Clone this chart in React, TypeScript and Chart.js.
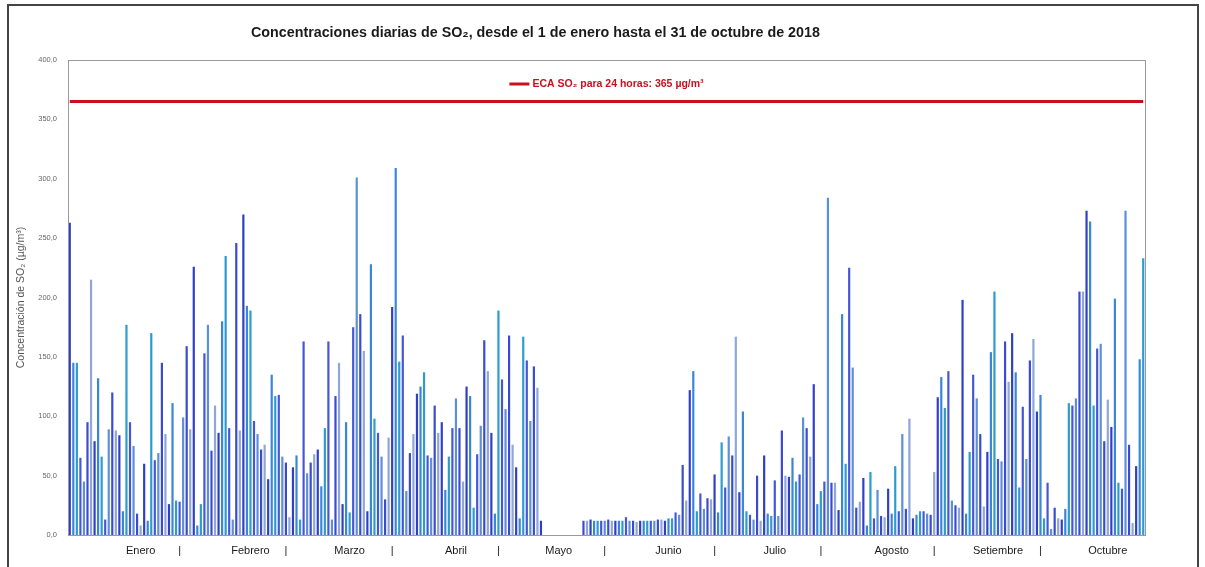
import React, { useEffect, useRef } from 'react';
import { Chart, registerables } from 'chart.js';

Chart.register(...registerables);

// ---- Data (daily SO2, µg/m³) ----
const monthNames = ['Enero', 'Febrero', 'Marzo', 'Abril', 'Mayo', 'Junio', 'Julio', 'Agosto', 'Setiembre', 'Octubre'];
const monthDays = [31, 28, 31, 30, 31, 30, 31, 31, 30, 31];
// day (1-based, counted from 1 Jan) under which each month name is written
const monthLabelDay = [21, 52, 80, 110, 139, 170, 200, 233, 263, 294];
// day under which each "|" separator is written
const separatorDay = [32, 62, 92, 122, 152, 183, 213, 245, 275];

const enero = [263, 145, 145, 65, 45, 95, 215, 79, 132, 66, 13, 89, 120, 88, 84, 20, 177, 95, 75, 18, 8, 60, 12, 170, 63, 69, 145, 85, 26, 111, 29];
const febrero = [28, 99, 159, 89, 226, 8, 26, 153, 177, 71, 109, 86, 180, 235, 90, 13, 246, 88, 270, 193, 189, 96, 85, 72, 76, 47, 135, 117];
const marzo = [118, 66, 61, 15, 57, 67, 13, 163, 52, 61, 68, 72, 41, 90, 163, 13, 117, 145, 26, 95, 19, 175, 301, 186, 155, 20, 228, 98, 86, 66, 30];
const abril = [82, 192, 309, 146, 168, 37, 69, 85, 119, 125, 137, 67, 65, 109, 86, 95, 38, 66, 90, 115, 90, 45, 125, 117, 23, 68, 92, 164, 138, 86];
const mayo = [18, 189, 131, 106, 168, 76, 57, 14, 167, 147, 96, 142, 124, 12, 0, 0, 0, 0, 0, 0, 0, 0, 0, 0, 0, 12, 12, 13, 12, 12, 12];
const junio = [12, 13, 12, 12, 12, 12, 15, 12, 12, 11, 12, 12, 12, 12, 12, 13, 13, 12, 14, 14, 19, 17, 59, 29, 122, 138, 20, 35, 22, 31];
const julio = [30, 51, 19, 78, 40, 83, 67, 167, 36, 104, 20, 17, 13, 50, 12, 67, 18, 16, 46, 16, 88, 50, 49, 65, 45, 51, 99, 90, 66, 127, 26];
const agosto = [37, 45, 284, 44, 44, 21, 186, 60, 225, 141, 23, 28, 48, 8, 53, 14, 38, 16, 15, 39, 18, 58, 20, 85, 22, 98, 14, 17, 20, 20, 18];
const setiembre = [17, 53, 116, 133, 107, 138, 29, 25, 23, 198, 18, 70, 135, 115, 85, 24, 70, 154, 205, 64, 62, 163, 129, 170, 137, 40, 108, 64, 147, 165];
const octubre = [104, 118, 14, 44, 5, 23, 14, 13, 22, 111, 109, 115, 205, 205, 273, 264, 109, 157, 161, 79, 114, 91, 199, 44, 39, 273, 76, 10, 58, 148, 233];

const so2Values = [...enero, ...febrero, ...marzo, ...abril, ...mayo, ...junio, ...julio, ...agosto, ...setiembre, ...octubre];
const ecaLimit = 365;
const yMin = 0;
const yMax = 400;
const yStep = 50;

const chartTitle = 'Concentraciones diarias de SO\u2082, desde el 1 de enero hasta el 31 de octubre de 2018';
const yAxisTitle = 'Concentraci\u00f3n de SO\u2082 (\u00b5g/m\u00b3)';
const ecaLabel = 'ECA SO\u2082 para 24 horas: 365 \u00b5g/m\u00b3';

// ---- Styles ----
const barPalette = ['#2f3fc8', '#3a86d8', '#2c9ccf', '#4656d6', '#5d8fd9', '#3a4bd0', '#8ea6d8'];
const ecaColor = '#c8101e';
const fontFamily = '"Liberation Sans", Arial, sans-serif';

const dayLabels: string[] = [];
monthDays.forEach((n, m) => {
  for (let d = 1; d <= n; d++) dayLabels.push(`${d}/${m + 1}`);
});

const decorPlugin = {
  id: 'decor',
  afterDraw(chart: any) {
    const { ctx, chartArea } = chart;
    const { left, right, top, bottom } = chartArea;
    ctx.save();
    // plot frame
    ctx.strokeStyle = '#9a9a9a';
    ctx.lineWidth = 1;
    ctx.strokeRect(left + 0.5, top + 0.5, right - left, bottom - top);
    // outer scan frame
    ctx.strokeStyle = '#444';
    ctx.lineWidth = 2;
    ctx.beginPath();
    ctx.moveTo(8, 567);
    ctx.lineTo(8, 5);
    ctx.lineTo(1198, 5);
    ctx.lineTo(1198, 567);
    ctx.stroke();
    // title
    ctx.fillStyle = '#1a1a1a';
    ctx.font = `bold 14.3px ${fontFamily}`;
    ctx.textAlign = 'center';
    ctx.textBaseline = 'middle';
    ctx.fillText(chartTitle, left + (right - left) * 0.434, 33);
    // legend (inside plot area)
    ctx.font = `bold 10.5px ${fontFamily}`;
    const tw = ctx.measureText(ecaLabel).width;
    const total = 20 + 3 + tw;
    const x0 = (left + right) / 2 - total / 2;
    const ly = top + 24;
    ctx.strokeStyle = ecaColor;
    ctx.lineWidth = 3;
    ctx.beginPath();
    ctx.moveTo(x0, ly);
    ctx.lineTo(x0 + 20, ly);
    ctx.stroke();
    ctx.fillStyle = ecaColor;
    ctx.textAlign = 'left';
    ctx.fillText(ecaLabel, x0 + 23, ly);
    ctx.restore();
  },
};

export default function App() {
  const ref = useRef<HTMLCanvasElement>(null);
  useEffect(() => {
    if (!ref.current) return;
    const chart = new Chart(ref.current, {
      type: 'bar',
      data: {
        labels: dayLabels,
        datasets: [
          {
            type: 'line',
            label: ecaLabel,
            data: dayLabels.map(() => ecaLimit),
            borderColor: ecaColor,
            backgroundColor: ecaColor,
            borderWidth: 3,
            pointRadius: 0,
            order: 0,
          } as any,
          {
            type: 'bar',
            label: 'SO2',
            data: so2Values,
            backgroundColor: so2Values.map((_, i) => barPalette[i % barPalette.length]),
            borderWidth: 0,
            barPercentage: 0.62,
            categoryPercentage: 1,
            order: 1,
          },
        ],
      },
      options: {
        animation: false,
        responsive: false,
        layout: { padding: { left: 8, right: 60, top: 60, bottom: 8 } },
        plugins: {
          legend: { display: false },
          title: { display: false },
          tooltip: { enabled: false },
        },
        scales: {
          x: {
            grid: { display: false, drawTicks: false },
            border: { display: false },
            ticks: {
              autoSkip: false,
              maxRotation: 0,
              minRotation: 0,
              padding: 9,
              color: '#1a1a1a',
              font: { size: 11, family: fontFamily },
              callback: (_v: any, i: number) => {
                const li = monthLabelDay.indexOf(i + 1);
                if (li >= 0) return monthNames[li];
                if (separatorDay.includes(i + 1)) return '|';
                return '';
              },
            },
            afterFit: (s: any) => {
              s.height = 24;
            },
          },
          y: {
            min: yMin,
            max: yMax,
            grid: { display: false, drawTicks: false },
            border: { display: false },
            ticks: {
              stepSize: yStep,
              padding: 11,
              color: '#666',
              font: { size: 7.5, family: fontFamily },
              callback: (v: any) => Number(v).toFixed(1).replace('.', ','),
            },
            title: {
              display: true,
              text: yAxisTitle,
              color: '#555',
              padding: { top: 7, bottom: 0 },
              font: { size: 10.5, family: fontFamily },
            },
            afterFit: (s: any) => {
              s.width = 60;
            },
          },
        },
      },
      plugins: [decorPlugin],
    });
    return () => chart.destroy();
  }, []);
  return (
    <div style={{ position: 'fixed', left: 0, top: 0, width: 1205, height: 567, background: '#fff' }}>
      <canvas ref={ref} width={1205} height={567} style={{ display: 'block' }} />
    </div>
  );
}
